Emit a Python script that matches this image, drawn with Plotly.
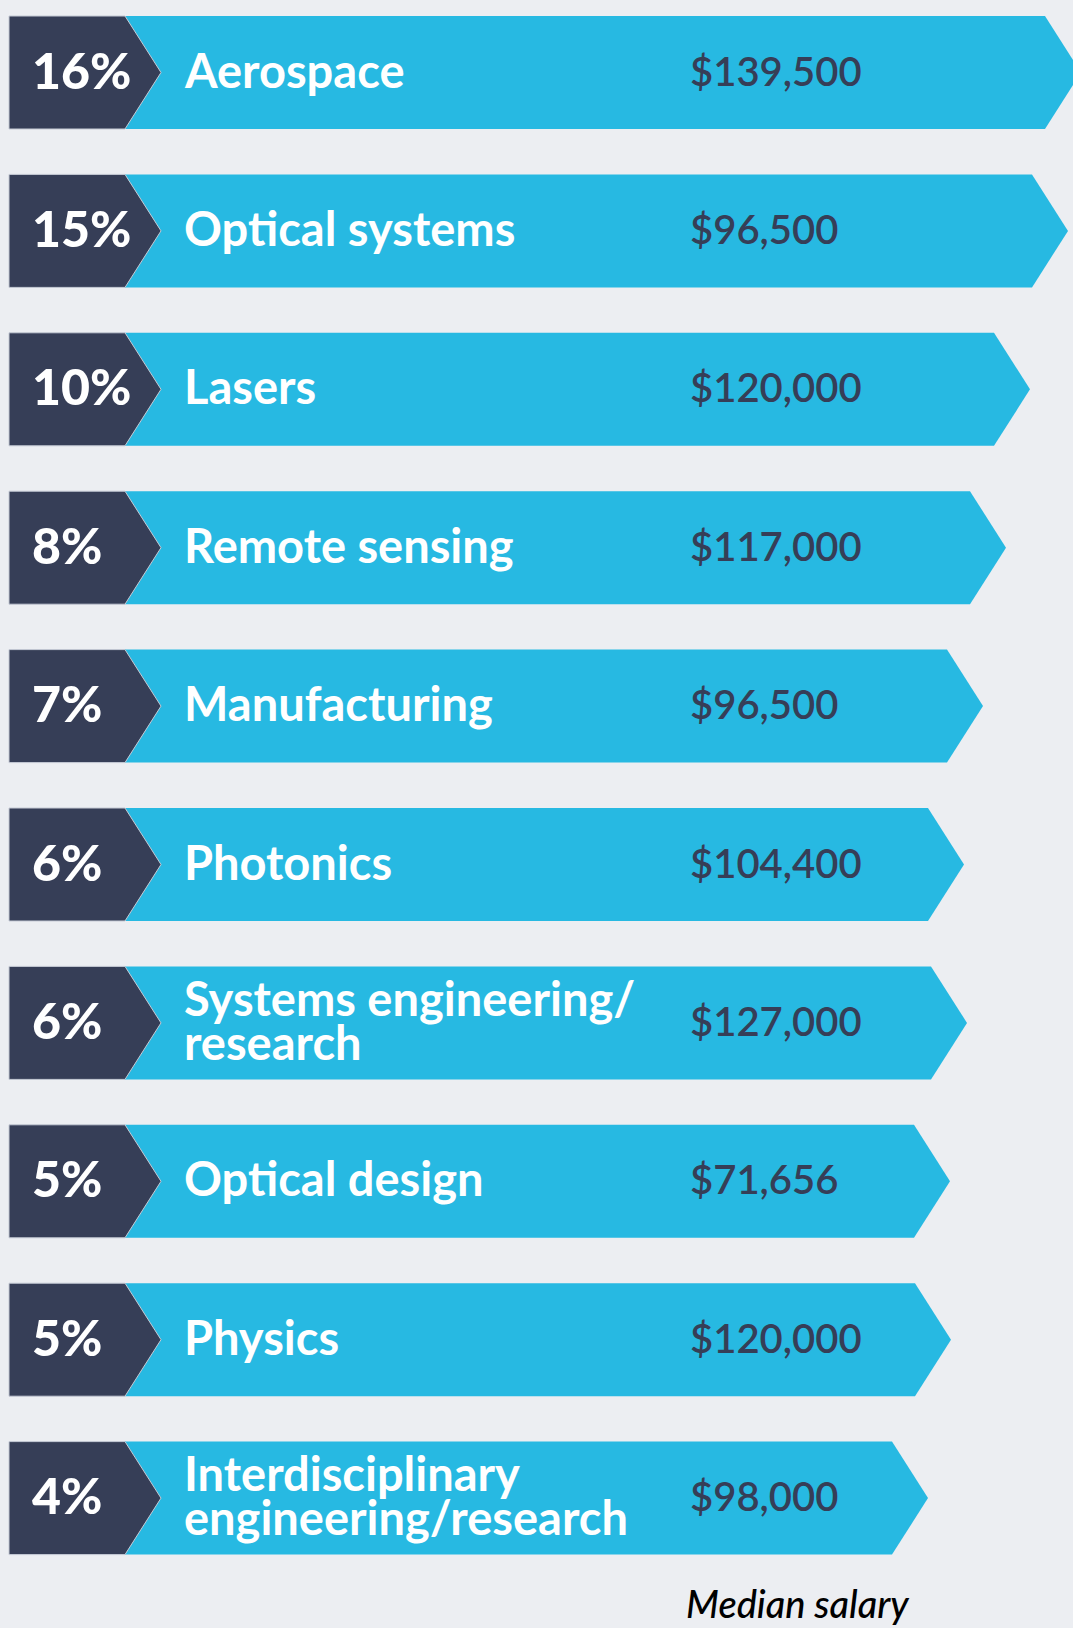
import plotly.graph_objects as go

# ---- data ----
shares = ["16%", "15%", "10%", "8%", "7%", "6%", "6%", "5%", "5%", "4%"]
fields = ["Aerospace", "Optical systems", "Lasers", "Remote sensing", "Manufacturing",
          "Photonics", "Systems engineering/<br>research", "Optical design", "Physics",
          "Interdisciplinary<br>engineering/research"]
salaries = ["$139,500", "$96,500", "$120,000", "$117,000", "$96,500",
            "$104,400", "$127,000", "$71,656", "$120,000", "$98,000"]
bar_length = [1081, 1068, 1030, 1006, 983, 964, 967, 950, 951, 928]
footer = "Median salary"

# ---- style ----
W, H = 1073, 1628
BG = "#eceef2"
BLUE = "#27b9e2"
NAVY = "#363e57"
TOP0, PITCH, RH = 16, 158.4, 113
X0, XD, TIP = 9, 125, 36
LABEL_X, SAL_X, PCT_X = 182, 688, 30
LABEL_SIZE = 47
LINE_GAP = 44

fig = go.Figure()
ann = []
for i, (s, f, sal, L) in enumerate(zip(shares, fields, salaries, bar_length)):
    t = TOP0 + i * PITCH
    b = t + RH
    m = (t + b) / 2
    # blue arrow
    fig.add_trace(go.Scatter(
        x=[XD, L - TIP, L, L - TIP, XD, XD], y=[t, t, m, b, b, t],
        mode="lines", fill="toself", fillcolor=BLUE, line=dict(color=BLUE, width=0),
        hoverinfo="skip", showlegend=False))
    # navy chevron
    fig.add_trace(go.Scatter(
        x=[X0, XD, XD + TIP, XD, X0, X0], y=[t, t, m, b, b, t],
        mode="lines", fill="toself", fillcolor=NAVY, line=dict(color="#c5cad5", width=1),
        hoverinfo="skip", showlegend=False))
    ann.append(dict(x=PCT_X, y=m - 3, text=s, xanchor="left", yanchor="middle", showarrow=False,
                    font=dict(family="Lato", size=50, color="white", weight=900)))
    lines = f.split("<br>")
    styled = "<br>".join(f'<span style="font-size:{LABEL_SIZE}px">{ln}</span>' for ln in lines)
    ann.append(dict(x=LABEL_X, y=m - 3, text=styled, xanchor="left", yanchor="middle",
                    align="left", showarrow=False,
                    font=dict(family="Lato", size=LINE_GAP / 1.3, color="white", weight=700)))
    ann.append(dict(x=SAL_X, y=m - 2, text=sal, xanchor="left", yanchor="middle", showarrow=False,
                    font=dict(family="Lato", size=40, color=NAVY, weight=600)))

ann.append(dict(x=684, y=1603, text="<i>" + footer + "</i>", xanchor="left", yanchor="middle",
                showarrow=False, font=dict(family="Lato", size=38, color="black", weight=500)))

fig.update_layout(
    width=W, height=H, margin=dict(l=0, r=0, t=0, b=0),
    paper_bgcolor=BG, plot_bgcolor=BG,
    xaxis=dict(range=[0, W], visible=False, fixedrange=True),
    yaxis=dict(range=[H, 0], visible=False, fixedrange=True),
    annotations=ann, showlegend=False)

fig.write_html("out.html", config={"displayModeBar": False},
               post_script="document.body.style.margin='0';document.body.style.background='#eceef2';document.body.style.overflow='hidden';")
